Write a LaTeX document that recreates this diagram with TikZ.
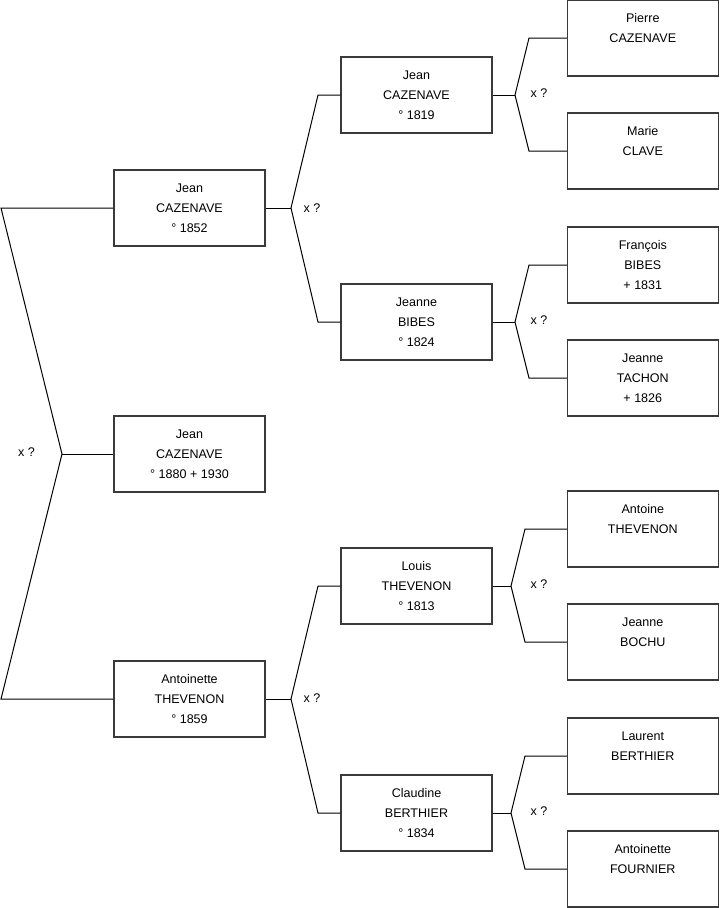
\documentclass[tikz,border=0pt]{standalone}
\usepackage{fontspec}
\setmainfont{Liberation Sans}
\definecolor{Cadre}{HTML}{3A3A3A}
\definecolor{Trait}{HTML}{000000}

\begin{document}
\begin{tikzpicture}[
  x=0.75pt,y=-0.75pt,
  every node/.style={font=\fontsize{9.4}{15}\selectfont},
  personne/.style={rectangle,draw=Cadre,line width=0.8pt,minimum width=113.25pt,
    minimum height=57pt,align=center,inner sep=0pt},
  lien/.style={draw=Trait,line width=0.75pt},
  union/.style={inner sep=0pt}
]
  \useasboundingbox (0,0) rectangle (719,908);

  % generation 1 et 2
  \node[personne] (moi) at (189.5,454) {Jean\\CAZENAVE\\° 1880 + 1930};
  \node[personne] (pere) at (189.5,208) {Jean\\CAZENAVE\\° 1852};
  \node[personne] (mere) at (189.5,699) {Antoinette\\THEVENON\\° 1859};

  % generation 3
  \node[personne] (pp) at (416.5,95) {Jean\\CAZENAVE\\° 1819};
  \node[personne] (mp) at (416.5,322) {Jeanne\\BIBES\\° 1824};
  \node[personne] (pm) at (416.5,586) {Louis\\THEVENON\\° 1813};
  \node[personne] (mm) at (416.5,813) {Claudine\\BERTHIER\\° 1834};

  % generation 4
  \node[personne] (ppp) at (642.8,38) {Pierre\\CAZENAVE\\~};
  \node[personne] (mpp) at (642.8,151) {Marie\\CLAVE\\~};
  \node[personne] (pmp) at (642.8,265) {François\\BIBES\\+ 1831};
  \node[personne] (mmp) at (642.8,378) {Jeanne\\TACHON\\+ 1826};
  \node[personne] (ppm) at (642.8,529) {Antoine\\THEVENON\\~};
  \node[personne] (mpm) at (642.8,642) {Jeanne\\BOCHU\\~};
  \node[personne] (pmm) at (642.8,756) {Laurent\\BERTHIER\\~};
  \node[personne] (mmm) at (642.8,869) {Antoinette\\FOURNIER\\~};

  % unions
  \coordinate (u0) at (62,454);
  \coordinate (u0a) at (1,208);
  \coordinate (u0b) at (1,699);
  \draw[lien] (pere.west) -- (u0a) -- (u0) -- (u0b) -- (mere.west);
  \draw[lien] (u0) -- (moi.west);
  \node[union] (x0) at (26.5,452) {x ?};

  \coordinate (u1) at (291,208);
  \draw[lien] (pp.west) -- (318,0 |- pp.west) -- (u1) -- (318,0 |- mp.west) -- (mp.west);
  \draw[lien] (pere.east) -- (u1);
  \node[union] (x1) at (312,208) {x ?};

  \coordinate (u2) at (291,699);
  \draw[lien] (pm.west) -- (318,0 |- pm.west) -- (u2) -- (318,0 |- mm.west) -- (mm.west);
  \draw[lien] (mere.east) -- (u2);
  \node[union] (x2) at (312,698) {x ?};

  \coordinate (u3) at (515,95);
  \draw[lien] (ppp.west) -- (529,0 |- ppp.west) -- (u3) -- (529,0 |- mpp.west) -- (mpp.west);
  \draw[lien] (pp.east) -- (u3);
  \node[union] (x3) at (539,93) {x ?};

  \coordinate (u4) at (515,322);
  \draw[lien] (pmp.west) -- (529,0 |- pmp.west) -- (u4) -- (529,0 |- mmp.west) -- (mmp.west);
  \draw[lien] (mp.east) -- (u4);
  \node[union] (x4) at (539,320) {x ?};

  \coordinate (u5) at (511,586);
  \draw[lien] (ppm.west) -- (525,0 |- ppm.west) -- (u5) -- (525,0 |- mpm.west) -- (mpm.west);
  \draw[lien] (pm.east) -- (u5);
  \node[union] (x5) at (539,584) {x ?};

  \coordinate (u6) at (511,813);
  \draw[lien] (pmm.west) -- (525,0 |- pmm.west) -- (u6) -- (525,0 |- mmm.west) -- (mmm.west);
  \draw[lien] (mm.east) -- (u6);
  \node[union] (x6) at (539,811) {x ?};
\end{tikzpicture}
\end{document}
